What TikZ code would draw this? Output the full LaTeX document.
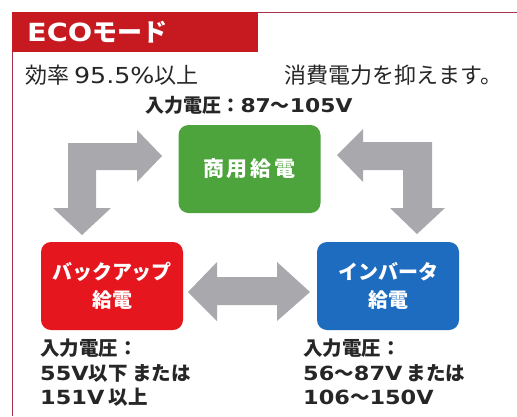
\documentclass[tikz,border=0pt]{standalone}
\usepackage{fontspec}
\setmainfont{Noto Sans CJK JP}
\newfontfamily\lat[FakeStretch=1.15]{DejaVu Sans}
\definecolor{framecol}{HTML}{A8344A}
\definecolor{hdrred}{HTML}{C61A20}
\definecolor{boxgreen}{HTML}{4DA43C}
\definecolor{boxred}{HTML}{E5161E}
\definecolor{boxblue}{HTML}{1E6CC0}
\definecolor{arrowgray}{HTML}{A9A9AD}
\definecolor{txt}{HTML}{262626}
\tikzset{
  modebox/.style={minimum width=142pt, minimum height=88pt, rounded corners=10pt,
    text=white, font=\bfseries\fontsize{20}{28}\selectfont, align=center, inner sep=0pt},
  blockarrow/.style={fill=arrowgray, draw=none},
  infotext/.style={text=txt, font=\bfseries\fontsize{19.5}{24.5}\selectfont, align=left, inner sep=0pt}
}
\begin{document}
\begin{tikzpicture}[x=1pt,y=-1pt]
\useasboundingbox (0,0) rectangle (517,416);
\fill[white] (0,0) rectangle (517,416);
% frame
\draw[framecol, line width=1.5pt] (517,12.5) -- (12.5,12.5) -- (12.5,416);
\fill[hdrred] (12,12) rectangle (258,52);
\node[anchor=west, text=white, inner sep=0pt, font=\bfseries\fontsize{25}{25}\selectfont] (title) at (27,32) {{\lat ECO}モード};
% top text
\node[anchor=west, text=txt, inner sep=0pt, font=\fontsize{22}{22}\selectfont] (eff) at (25,75) {効率 {\lat 95.5\%}以上};
\node[anchor=west, text=txt, inner sep=0pt, font=\fontsize{22}{22}\selectfont] (save) at (284,75) {消費電力を抑えます。};
\node[infotext, anchor=center, font=\bfseries\fontsize{19}{19}\selectfont] (vin) at (249,105) {入力電圧：{\lat 87}～{\lat 105V}};
% boxes
\node[modebox, fill=boxgreen, font=\bfseries\fontsize{21}{21}\selectfont] (com) at (249.5,169) {商\hspace{3pt}用\hspace{3pt}給\hspace{3pt}電};
\node[modebox, fill=boxred] (bak) at (112,286) {バックアップ\\給電};
\node[modebox, fill=boxblue] (inv) at (388,286) {インバータ\\給電};
% arrows
\fill[blockarrow] (68,143) -- (137,143) -- (137,130) -- (162,156) -- (137,182) -- (137,170) -- (96,170) -- (96,208) -- (111,208) -- (82,235) -- (53,208) -- (68,208) -- cycle;
\fill[blockarrow] (432,142) -- (363,142) -- (363,129) -- (337,155) -- (363,182) -- (363,170) -- (403,170) -- (403,208) -- (390,208) -- (417,234) -- (445,208) -- (432,208) -- cycle;
\fill[blockarrow] (188,292) -- (217,262) -- (217,277) -- (277,277) -- (277,262) -- (310,292) -- (277,321) -- (277,305) -- (217,305) -- (217,321) -- cycle;
% bottom texts
\node[infotext, anchor=north west] (bakv) at (40,339) {入力電圧：\\{\lat 55V}以下 または\\{\lat 151V} 以上};
\node[infotext, anchor=north west] (invv) at (303,339) {入力電圧：\\{\lat 56}～{\lat 87V} または\\{\lat 106}～{\lat 150V}};
\end{tikzpicture}
\end{document}
